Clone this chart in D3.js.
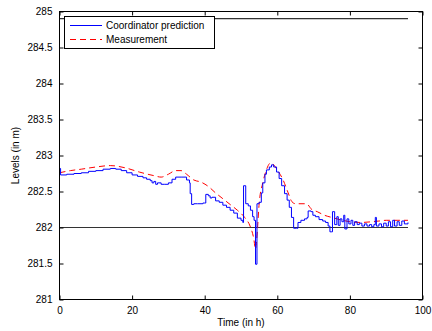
<!DOCTYPE html>
<html>
<head>
<meta charset="utf-8">
<script src="https://cdn.jsdelivr.net/npm/d3@7"></script>
<style>
  body { margin: 0; background: #fff; }
  text { font-family: "Liberation Sans", Arial, sans-serif; }
</style>
</head>
<body>
<svg id="chart" width="432" height="331"></svg>
<script>
// time (h) and level (m) for the coordinator prediction (step-like)
const predTime = [0, 0.3, 0.3, 2, 4, 6, 8, 10, 12, 14, 15.5, 17, 18.5, 20, 21.5, 23, 24, 25, 25.5, 26, 26.5, 27, 28, 29, 30, 31, 32, 33.5, 35, 35.8, 36, 36.4, 37, 38, 39.5, 40, 40.3, 41, 41.5, 42, 43, 44, 45, 46, 47, 48, 49, 50, 50.5, 50.7, 50.7, 51.1, 51.3, 52, 52.6, 53.2, 53.6, 54, 54, 54.4, 54.4, 55, 55.6, 56, 56.6, 57, 57.8, 58.4, 59, 59.8, 60.5, 61.2, 62, 62.7, 63.3, 63.9, 64.5, 65.3, 65.7, 66.5, 67.5, 68.2, 68.5, 69.3, 69.8, 70.5, 71.5, 72.5, 73.3, 74, 74.5, 75, 75.2, 75.6, 75.8, 76.4, 76.8, 77.3, 77.8, 78.3, 78.6, 79.2, 79.7, 80.3, 80.8, 81.3, 82, 82.6, 83.3, 84, 84.7, 85.4, 86, 86.6, 87, 87.3, 88, 88.7, 89.3, 90, 90.6, 91.2, 91.8, 92.3, 93, 93.6, 94.3, 95, 96];
const predLevel = [282.82, 282.82, 282.73, 282.74, 282.75, 282.76, 282.78, 282.79, 282.81, 282.82, 282.81, 282.79, 282.76, 282.73, 282.71, 282.69, 282.67, 282.65, 282.62, 282.64, 282.60, 282.62, 282.60, 282.60, 282.62, 282.67, 282.70, 282.70, 282.66, 282.62, 282.47, 282.32, 282.33, 282.33, 282.34, 282.34, 282.46, 282.44, 282.41, 282.42, 282.37, 282.35, 282.31, 282.28, 282.24, 282.20, 282.13, 282.10, 282.07, 282.07, 282.58, 282.58, 282.33, 282.30, 282.24, 282.15, 282.10, 282.10, 281.49, 281.49, 282.33, 282.35, 282.48, 282.62, 282.74, 282.80, 282.84, 282.87, 282.84, 282.77, 282.68, 282.58, 282.47, 282.38, 282.28, 282.14, 281.99, 281.99, 282.07, 282.10, 282.12, 282.14, 282.23, 282.22, 282.17, 282.15, 282.11, 282.09, 282.07, 282.02, 281.94, 281.94, 282.22, 282.22, 282.04, 282.15, 282.03, 282.12, 282.08, 282.17, 281.98, 282.12, 282.05, 282.10, 282.03, 282.08, 282.04, 282.06, 282.02, 282.05, 282.02, 282.04, 282.01, 282.04, 282.14, 282.02, 282.05, 282.01, 282.06, 282.02, 282.08, 282.01, 282.10, 282.02, 282.08, 282.03, 282.09, 282.05, 282.07];

// measured level (smooth, dashed)
const measTime = [0, 3, 6, 10, 14, 18, 22, 26, 28, 30, 32, 33.5, 35, 37, 39, 41, 43, 45, 47, 49, 51, 52.5, 53.5, 54, 54.5, 55, 56, 57, 58.2, 59, 60, 61.6, 63, 64, 65, 68, 69.5, 71, 73, 75, 78, 80, 83, 86, 88, 90, 93, 96];
const measLevel = [282.76, 282.79, 282.81, 282.84, 282.86, 282.83, 282.77, 282.72, 282.70, 282.74, 282.79, 282.79, 282.74, 282.66, 282.63, 282.57, 282.48, 282.40, 282.32, 282.24, 282.14, 282.02, 281.85, 281.70, 281.95, 282.33, 282.62, 282.80, 282.90, 282.87, 282.80, 282.66, 282.48, 282.36, 282.33, 282.33, 282.25, 282.22, 282.17, 282.14, 282.10, 282.08, 282.07, 282.08, 282.09, 282.10, 282.10, 282.10];

// reference levels (black lines)
const refLevels = [282, 284.9];
const refSpan = [0, 96];

const xTicks = [0, 20, 40, 60, 80, 100];
const yTicks = [281, 281.5, 282, 282.5, 283, 283.5, 284, 284.5, 285];
const seriesNames = ["Coordinator prediction", "Measurement"];

const svg = d3.select("#chart");
const m = { left: 59.5, right: 422.5, top: 11.5, bottom: 299.5 };

const x = d3.scaleLinear().domain([0, 100]).range([m.left, m.right]);
const y = d3.scaleLinear().domain([281, 285]).range([m.bottom, m.top]);

// clip to plot area
svg.append("defs").append("clipPath").attr("id", "clip")
  .append("rect").attr("x", m.left).attr("y", m.top)
  .attr("width", m.right - m.left).attr("height", m.bottom - m.top);

const plot = svg.append("g").attr("clip-path", "url(#clip)");

// reference lines
refLevels.forEach(v => {
  plot.append("line")
    .attr("x1", x(refSpan[0])).attr("x2", x(refSpan[1]))
    .attr("y1", y(v)).attr("y2", y(v))
    .attr("stroke", "#333").attr("stroke-width", 1.2);
});

// measurement (dashed red)
const measData = measTime.map((t, i) => [t, measLevel[i]]);
plot.append("path")
  .datum(measData)
  .attr("fill", "none")
  .attr("stroke", "#ff0000")
  .attr("stroke-width", 1)
  .attr("stroke-dasharray", "6,4")
  .attr("d", d3.line().x(d => x(d[0])).y(d => y(d[1])).curve(d3.curveMonotoneX));

// prediction (blue steps)
const predData = predTime.map((t, i) => [t, predLevel[i]]);
plot.append("path")
  .datum(predData)
  .attr("fill", "none")
  .attr("stroke", "#0000ff")
  .attr("stroke-width", 1)
  .attr("d", d3.line().x(d => x(d[0])).y(d => y(d[1])).curve(d3.curveStepAfter));

// axes, MATLAB style: box with inward ticks
const tickLen = 4;
const fmt = d3.format("~g");
svg.append("g").attr("transform", `translate(0,${m.bottom})`)
  .call(d3.axisBottom(x).tickValues(xTicks).tickFormat(fmt).tickSizeInner(-tickLen).tickSizeOuter(0).tickPadding(7))
  .call(g => g.select(".domain").remove());
svg.append("g").attr("transform", `translate(0,${m.top})`)
  .call(d3.axisTop(x).tickValues(xTicks).tickSizeInner(-tickLen).tickSizeOuter(0).tickFormat(""))
  .call(g => g.select(".domain").remove());
svg.append("g").attr("transform", `translate(${m.left},0)`)
  .call(d3.axisLeft(y).tickValues(yTicks).tickFormat(fmt).tickSizeInner(-tickLen).tickSizeOuter(0).tickPadding(7))
  .call(g => g.select(".domain").remove());
svg.append("g").attr("transform", `translate(${m.right},0)`)
  .call(d3.axisRight(y).tickValues(yTicks).tickSizeInner(-tickLen).tickSizeOuter(0).tickFormat(""))
  .call(g => g.select(".domain").remove());

svg.selectAll(".tick line").attr("stroke", "#000");
svg.selectAll(".tick text").attr("font-size", 10).attr("fill", "#000")
  .style("font-family", "'Liberation Sans', Arial, sans-serif");

svg.append("rect")
  .attr("x", m.left).attr("y", m.top)
  .attr("width", m.right - m.left).attr("height", m.bottom - m.top)
  .attr("fill", "none").attr("stroke", "#000").attr("stroke-width", 1);

// axis labels
svg.append("text")
  .attr("x", (m.left + m.right) / 2).attr("y", 326)
  .attr("text-anchor", "middle").attr("font-size", 10)
  .text("Time (in h)");
svg.append("text")
  .attr("transform", `translate(19,${(m.top + m.bottom) / 2}) rotate(-90)`)
  .attr("text-anchor", "middle").attr("font-size", 10)
  .text("Levels (in m)");

// legend
const legend = svg.append("g");
legend.append("rect")
  .attr("x", 64.5).attr("y", 16.5).attr("width", 150).attr("height", 32)
  .attr("fill", "#fff").attr("stroke", "#000").attr("stroke-width", 1);
const legendStyles = [
  { color: "#0000ff", dash: null },
  { color: "#ff0000", dash: "6,4" }
];
seriesNames.forEach((name, i) => {
  const ly = 25.5 + i * 14;
  legend.append("line")
    .attr("x1", 70).attr("x2", 102).attr("y1", ly).attr("y2", ly)
    .attr("stroke", legendStyles[i].color).attr("stroke-width", 1)
    .attr("stroke-dasharray", legendStyles[i].dash);
  legend.append("text")
    .attr("x", 106).attr("y", ly + 3.5)
    .attr("font-size", 10)
    .text(name);
});
</script>
</body>
</html>
